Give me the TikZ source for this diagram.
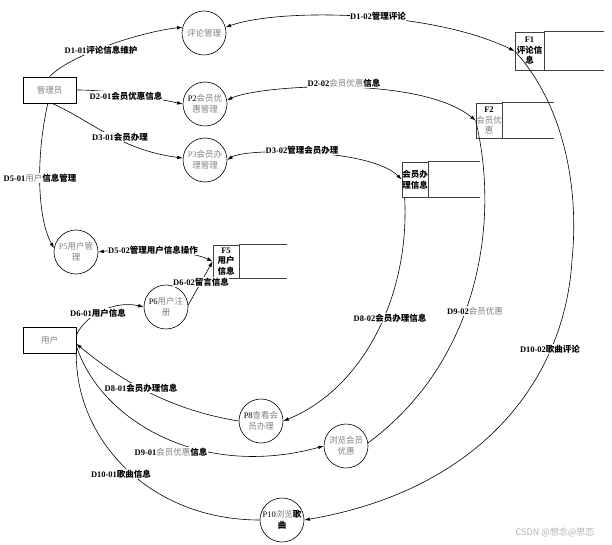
\documentclass[tikz,border=0pt]{standalone}
\usepackage{fontspec}
\setmainfont{Liberation Serif}
\newfontfamily\cjk{Noto Sans CJK SC}
\usetikzlibrary{arrows.meta}
\newcommand{\zh}[1]{{\cjk #1}}
\newcommand{\zg}[1]{{\cjk\mdseries\color{gray}#1}}
\begin{document}
\begin{tikzpicture}[x=1pt,y=-1pt,
  flow/.style={line width=0.6pt},
  tip/.style={-{Latex[length=5.5pt,width=3.6pt]}},
  tips/.style={{Latex[length=5.5pt,width=3.6pt]}-{Latex[length=5.5pt,width=3.6pt]}},
  proc/.style={circle,draw,line width=0.6pt,minimum size=44pt,inner sep=0pt,align=center,
    font=\fontsize{8.5}{11}\selectfont,text=gray},
  ent/.style={rectangle,draw,line width=0.6pt,minimum width=53pt,minimum height=26pt,inner sep=0pt,
    font=\fontsize{8.5}{11}\selectfont\cjk,text=gray},
  store/.style={rectangle,draw=black!75,line width=0.8pt,inner sep=0pt,align=center,
    font=\fontsize{8.5}{10.5}\selectfont\bfseries},
  ext/.style={draw=black!75,line width=0.8pt},
  lab/.style={fill=white,inner sep=0.6pt,font=\fontsize{8.5}{10}\selectfont\bfseries}
]
\useasboundingbox (0,0) rectangle (612,545);

% external entities
\node[ent] (gly) at (49.5,90) {管理员};
\node[ent] (yh) at (49.5,340) {用户};

% processes
\node[proc] (pl) at (204,33) {\zh{评论管理}};
\node[proc] (p2) at (205,104) {{\color{black}P2}\zh{会员优}\\\zh{惠管理}};
\node[proc] (p3) at (205,160) {P3\zh{会员办}\\\zh{理管理}};
\node[proc] (p5) at (76,252) {P5\zh{用户管}\\\zh{理}};
\node[proc] (p6) at (166,307) {{\color{black}P6}\zh{用户注}\\\zh{册}};
\node[proc] (p8) at (261,421) {{\color{black}P8}\zh{查看会}\\\zh{员办理}};
\node[proc] (lh) at (346,446) {\zh{浏览会员}\\\zh{优惠}};
\node[proc] (p10) at (282,520) {{\color{black}P10}\zh{浏览}{\color{black}\cjk\bfseries 歌}\\{\color{black}\cjk\bfseries 曲}};

% data stores
\node[store,text width=29pt,minimum height=38pt] (f1) at (529.5,51) {F1\\\zh{评论信}\\\zh{息}};
\draw[ext] (f1.north east) -- ++(60,0);
\draw[ext] (f1.south east) -- ++(60,0);
\node[store,text width=26pt,minimum height=35pt] (f2) at (489,120.5) {F2\\\zg{会员优}\\\zg{惠}};
\draw[ext] (f2.north east) -- ++(52,0);
\draw[ext] (f2.south east) -- ++(52,0);
\node[store,text width=26pt,minimum height=35pt] (hy) at (415,179.5) {\zh{会员办}\\\zh{理信息}};
\draw[ext] (hy.north east) -- ++(52,0);
\draw[ext] (hy.south east) -- ++(52,0);
\node[store,text width=26pt,minimum height=33pt] (f5) at (226,261.5) {F5\\\zh{用户}\\\zh{信息}};
\draw[ext] (f5.north east) -- ++(48,0);
\draw[ext] (f5.south east) -- ++(48,0);

% connectors
\draw[flow,tip] (gly.north) .. controls (70,55) and (140,32) .. (pl.165);
\draw[flow,tips] (pl.15) .. controls (280,8) and (430,10) .. (f1.west);
\draw[flow,tip] (gly.east) .. controls (110,90) and (150,97) .. (p2.west);
\draw[flow,tips] (p2.10) .. controls (260,85) and (420,75) .. (f2.west);
\draw[flow,tip] (gly.-80) .. controls (90,120) and (120,150) .. (p3.175);
\draw[flow,tips] (p3.east) .. controls (245,148) and (370,148) .. (hy.west);
\draw[flow,tip] (gly.-97) .. controls (35,160) and (38,220) .. (p5.170);
\draw[flow,tips] (p5.east) .. controls (130,248) and (190,250) .. (f5.west);
\draw[flow,tip] (p6.5) -- (f5.west);
\draw[flow,tip] (yh.10) .. controls (85,315) and (115,300) .. (p6.west);
\draw[flow,tip] (hy.-120) .. controls (410,300) and (360,390) .. (p8.east);
\draw[flow,tip] (p8.west) .. controls (170,410) and (120,380) .. (yh.-8);
\draw[flow] (f2.west) .. controls (500,220) and (480,360) .. (lh.8);
\draw[flow,tip] (yh.-12) .. controls (100,420) and (200,480) .. (lh.west);
\draw[flow] (yh.-25) .. controls (75,440) and (150,520) .. (p10.west);
\draw[flow,tip] (f1.west) .. controls (560,100) and (580,180) .. (572,260)
  .. controls (565,380) and (480,490) .. (p10.east);

% labels
\node[lab] (l1) at (101,50) {D1-01\zh{评论信息维护}};
\node[lab] (l2) at (378,16) {D1-02\zh{管理评论}};
\node[lab] (l3) at (126,96) {D2-01\zh{会员优惠信息}};
\node[lab] (l4) at (344,83) {D2-02\zg{会员优惠}\zh{信息}};
\node[lab] (l5) at (120,137) {D3-01\zh{会员办理}};
\node[lab] (l6) at (302,150) {D3-02\zh{管理会员办理}};
\node[lab] (l7) at (40,178) {D5-01\zg{用户}\zh{信息管理}};
\node[lab] (l8) at (153,250) {D5-02\zh{管理用户信息操作}};
\node[lab] (l9) at (201,282) {D6-02\zh{留言信息}};
\node[lab] (l10) at (98,313) {D6-01\zh{用户信息}};
\node[lab] (l11) at (141,388) {D8-01\zh{会员办理信息}};
\node[lab] (l12) at (390,318) {D8-02\zh{会员办理信息}};
\node[lab] (l13) at (475,311) {D9-02\zg{会员优惠}};
\node[lab] (l14) at (171,452) {D9-01\zg{会员优惠}\zh{信息}};
\node[lab] (l15) at (121,474) {D10-01\zh{歌曲信息}};
\node[lab] (l16) at (550,349) {D10-02\zh{歌曲评论}};

% watermark
\node[font=\fontsize{9}{10}\selectfont\cjk,text=gray!60] (wm) at (555,532) {CSDN @想念@思恋};
\end{tikzpicture}
\end{document}
